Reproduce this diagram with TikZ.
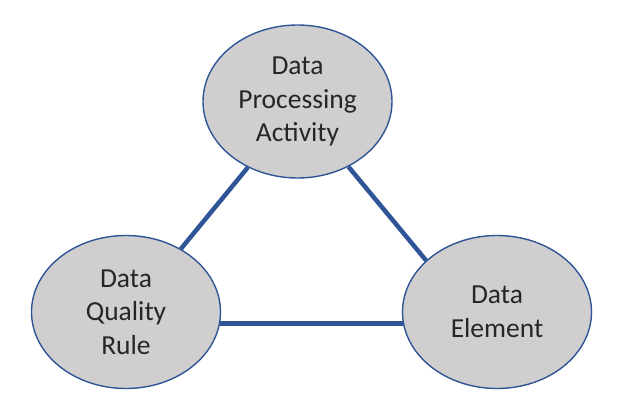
\documentclass[tikz,border=0pt]{standalone}
\usepackage{fontspec}
\setmainfont{Carlito}
\usetikzlibrary{shapes.geometric}
\definecolor{ovalfill}{HTML}{D0CECE}
\definecolor{ovalline}{HTML}{2F5597}
\definecolor{textgray}{HTML}{262626}
\tikzset{
  oval/.style={ellipse, draw=ovalline, line width=1.4pt, fill=ovalfill,
    minimum width=189pt, minimum height=153pt, inner sep=0pt,
    align=center, text=textgray, font=\fontsize{27.5}{33.5}\selectfont},
  link/.style={ovalline, line width=4.5pt}
}
\begin{document}
\begin{tikzpicture}[x=1pt,y=-1pt]
\useasboundingbox (0,0) rectangle (628,409);

% the three entities
\node[oval] (dpa) at (297.5,101.5) {Data\\Processing\\Activity};
\node[oval] (dqr) at (126,312) {Data\\Quality\\Rule};
\node[oval] (de) at (497,312) {Data\\Element};

% links between them
\draw[link] (dpa.233) -- (dqr.49);
\draw[link] (dpa.308) -- (de.144);
\draw[link] (dqr.-7) -- (de.-173);
\end{tikzpicture}
\end{document}
